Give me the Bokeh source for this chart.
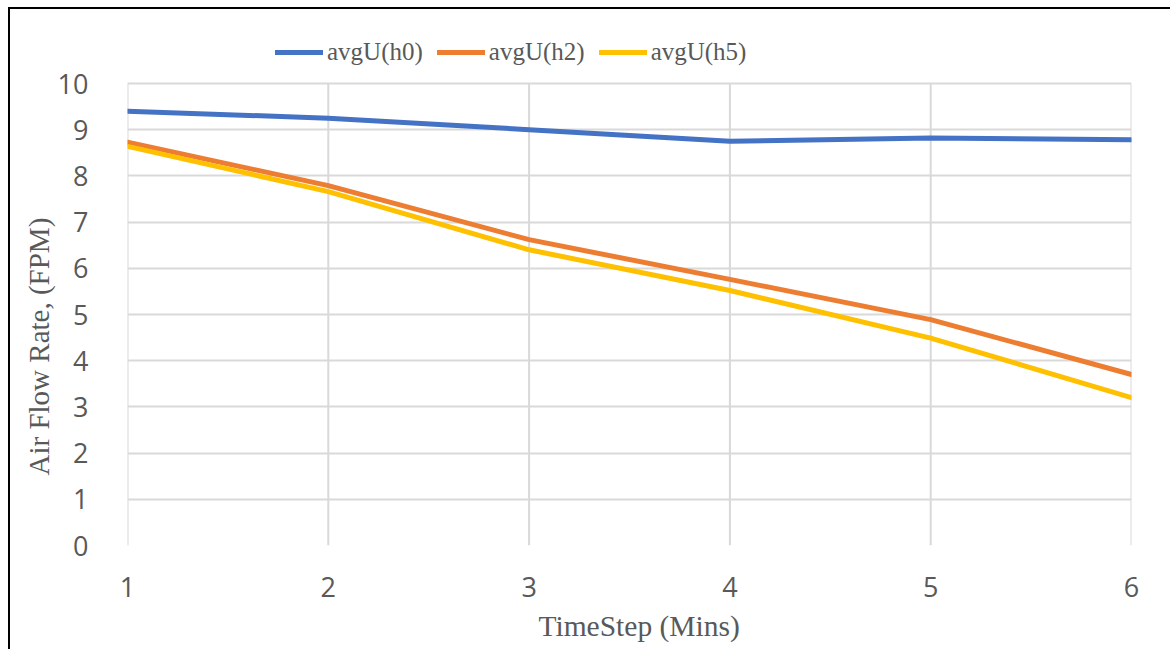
from bokeh.plotting import figure
from bokeh.models import Legend, LegendItem, FixedTicker, Range1d, Title
from bokeh.embed import file_html
from bokeh.resources import INLINE

timesteps = [1, 2, 3, 4, 5, 6]
avgU_h0 = [9.40, 9.25, 9.00, 8.75, 8.82, 8.78]
avgU_h2 = [8.73, 7.79, 6.62, 5.76, 4.89, 3.70]
avgU_h5 = [8.64, 7.66, 6.40, 5.52, 4.49, 3.20]
series_names = ["avgU(h0)", "avgU(h2)", "avgU(h5)"]
series_colors = ["#4472C4", "#ED7D31", "#FFC000"]
y_ticks = list(range(0, 11))
y_min, y_max = 0, 10

# frame extends above y=10 to make room for the legend inside the plot area
top_pad = y_max * (515 / 462)

p = figure(width=1162, height=642, output_backend="svg", toolbar_location=None,
           x_range=Range1d(1, 6), y_range=Range1d(y_min, top_pad),
           min_border_left=117, min_border_right=41, min_border_top=21, min_border_bottom=106)
p.styles = {"border-left": "2px solid black", "border-top": "2px solid black",
            "margin-left": "8px", "margin-top": "7px"}
p.outline_line_color = None
p.background_fill_color = "white"
p.border_fill_color = "white"

# vertical grid lines only spanning 0..10
p.xgrid.grid_line_color = None
p.segment(x0=timesteps, y0=[y_min] * len(timesteps), x1=timesteps, y1=[y_max] * len(timesteps),
          line_color="#d9d9d9", line_width=2)
p.ygrid.grid_line_color = "#d9d9d9"
p.ygrid.grid_line_width = 2

renderers = []
for ys, c in zip([avgU_h0, avgU_h2, avgU_h5], series_colors):
    r = p.line(timesteps, ys, line_color=c, line_width=5, line_join="round", line_cap="round")
    renderers.append(r)

p.xaxis.ticker = FixedTicker(ticks=timesteps)
p.yaxis.ticker = FixedTicker(ticks=y_ticks)
for ax in (p.xaxis, p.yaxis):
    ax.axis_line_color = None
    ax.major_tick_line_color = None
    ax.minor_tick_line_color = None
    ax.major_label_text_font = "Open Sans"
    ax.major_label_text_font_size = "27px"
    ax.major_label_text_color = "#595959"
p.xaxis.major_label_standoff = 25
p.yaxis.major_label_standoff = 33

xt = Title(text="TimeStep (Mins)", align="left", offset=411, standoff=16,
           text_font="Liberation Serif", text_font_size="29.5px", text_font_style="normal",
           text_color="#595959")
p.add_layout(xt, "below")
yt = Title(text="Air Flow Rate, (FPM)", align="left", offset=70, standoff=0,
           text_font="Liberation Serif", text_font_size="29px", text_font_style="normal",
           text_color="#595959")
p.add_layout(yt, "left")

legend = Legend(items=[LegendItem(label=n, renderers=[r]) for n, r in zip(series_names, renderers)],
                orientation="horizontal", location=(148, 479), padding=0, margin=0,
                glyph_width=48, label_standoff=4, spacing=14,
                label_text_font="Liberation Serif", label_text_font_size="25px",
                label_text_color="#595959", border_line_color=None,
                background_fill_alpha=0)
p.add_layout(legend, "center")

open("out.html", "w").write(file_html(p, INLINE))
